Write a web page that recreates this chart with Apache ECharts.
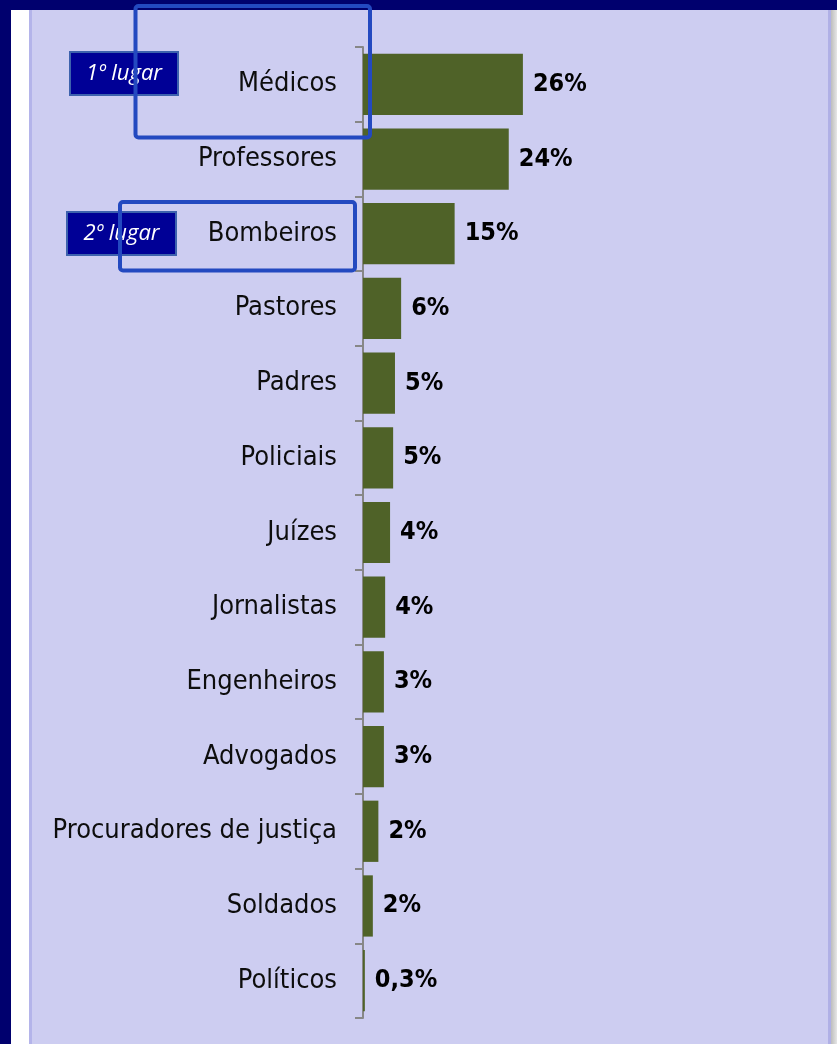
<!DOCTYPE html>
<html><head><meta charset="utf-8">
<script src="https://cdn.jsdelivr.net/npm/echarts@6/dist/echarts.min.js"></script>
<style>
html,body{margin:0;padding:0;width:837px;height:1044px;overflow:hidden;background:#00006e;}
#bgwhite{position:absolute;left:11px;top:10px;width:18px;height:1034px;background:#ffffff;}
#bgline{position:absolute;left:29px;top:10px;width:3px;height:1034px;background:#b4b4ea;}
#bglav{position:absolute;left:32px;top:10px;width:796px;height:1034px;background:#cdcdf1;}
#bgrline{position:absolute;left:828px;top:10px;width:3px;height:1034px;background:#b0b0e6;}
#bgright{position:absolute;left:831px;top:10px;width:6px;height:1034px;background:linear-gradient(to right,#bdbdbd,#e6e6e6);}
#chart{position:absolute;left:0;top:0;width:837px;height:1044px;}
</style></head>
<body>
<div id="bgwhite"></div><div id="bgline"></div><div id="bglav"></div><div id="bgrline"></div><div id="bgright"></div>
<div id="chart"></div>
<script>
const categories = ["Médicos","Professores","Bombeiros","Pastores","Padres","Policiais","Juízes","Jornalistas","Engenheiros","Advogados","Procuradores de justiça","Soldados","Políticos"];
const values = [26, 23.7, 14.9, 6.2, 5.2, 4.9, 4.4, 3.6, 3.4, 3.4, 2.5, 1.6, 0.3];
const valueLabels = ["26%","24%","15%","6%","5%","5%","4%","4%","3%","3%","2%","2%","0,3%"];

const chart = echarts.init(document.getElementById('chart'), null, {renderer:'canvas'});
const FONT = '"DejaVu Sans Condensed","DejaVu Sans",sans-serif';

function labelBox(x, y, w, h, text){
  return {
    type:'group', z:100,
    children:[
      {type:'rect', shape:{x:x,y:y,width:w,height:h}, style:{fill:'#000096', stroke:'#3d62ad', lineWidth:2}},
      {type:'text', style:{x:x+w/2, y:y+h/2, text:text, fill:'#ffffff', font:'italic 22px "Open Sans", "Noto Sans", sans-serif', align:'center', verticalAlign:'middle'}}
    ]
  };
}

chart.setOption({
  backgroundColor:'transparent',
  animation:false,
  grid:{left:363, top:47, width:369, height:971, containLabel:false},
  xAxis:{type:'value', min:0, max:60, show:false},
  yAxis:{
    type:'category', data:categories, inverse:true,
    axisLine:{show:true, lineStyle:{color:'#878787', width:2}},
    axisTick:{show:true, length:8, lineStyle:{color:'#878787', width:2}},
    axisLabel:{margin:26, color:'#0d0d0d', fontSize:27, fontFamily:FONT,
      textShadowColor:'rgba(255,255,255,0.6)', textShadowOffsetX:1, textShadowOffsetY:1}
  },
  series:[{
    type:'bar', data:values, barCategoryGap:'18%',
    itemStyle:{color:'#4f6228'},
    label:{show:true, position:'right', distance:10, color:'#000000', fontSize:25, fontWeight:'bold', fontFamily:FONT,
      textShadowColor:'rgba(255,255,255,0.8)', textShadowOffsetX:1, textShadowOffsetY:1,
      formatter:p=>valueLabels[p.dataIndex]}
  }],
  graphic:[
    {type:'rect', z:90, shape:{x:135.5,y:6,width:234.5,height:131.5,r:3}, style:{fill:'none', stroke:'#2349c0', lineWidth:4}},
    {type:'rect', z:90, shape:{x:120,y:202,width:235,height:68.5,r:3}, style:{fill:'none', stroke:'#2349c0', lineWidth:4}},
    labelBox(70,52,108,43,'1º lugar'),
    labelBox(67,212,109,43,'2º lugar')
  ]
});
</script>
</body></html>
